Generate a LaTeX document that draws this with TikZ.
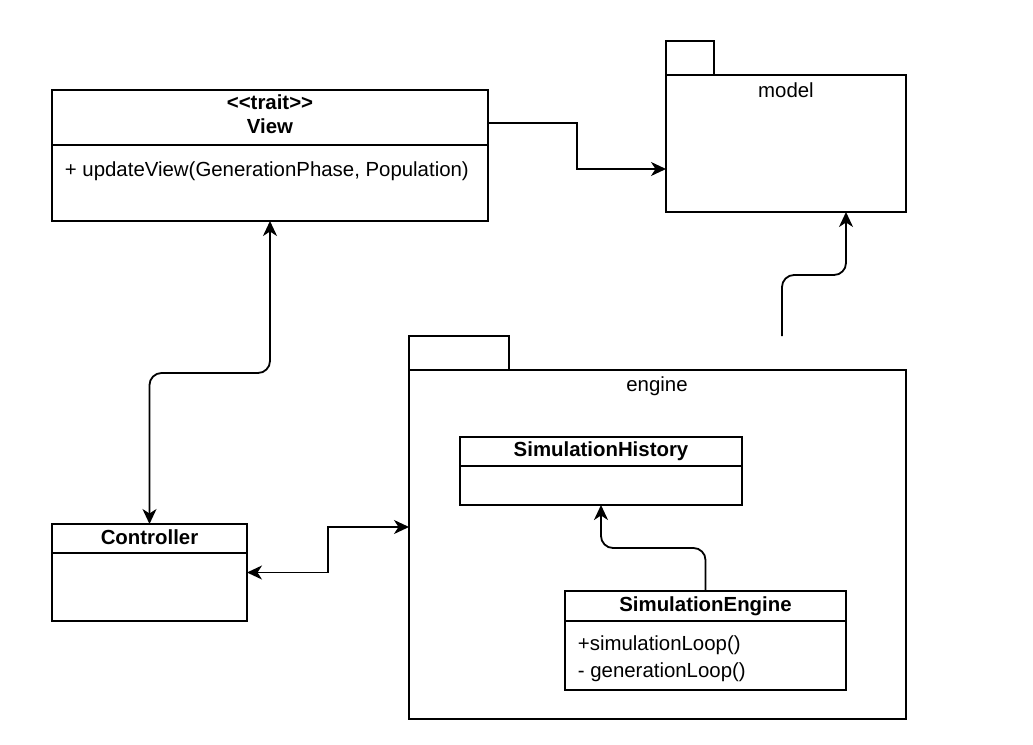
\documentclass[tikz,border=0pt]{standalone}
\usepackage{fontspec}
\setmainfont{Liberation Sans}[Ligatures=TeXOff]
\usetikzlibrary{arrows.meta}
\begin{document}
\begin{tikzpicture}[x=1pt,y=-1pt,line width=1.8pt,
  box/.style={draw,anchor=north west,inner sep=0pt,outer sep=0pt,line width=1.8pt},
  txt/.style={inner sep=0pt,anchor=base,font=\fontsize{20.4}{24}\selectfont},
  btxt/.style={inner sep=0pt,anchor=base,font=\fontsize{20.4}{24}\selectfont\bfseries},
  ltxt/.style={inner sep=0pt,anchor=base west,font=\fontsize{20.4}{24}\selectfont},
  tip/.tip={Stealth[length=15pt,width=14pt,inset=4.5pt]},
  conn/.style={line width=1.8pt,-tip},
  conn2/.style={line width=1.8pt,tip-tip}]
\useasboundingbox (0,0) rectangle (1033,744);
% View
\node[box,minimum width=436pt,minimum height=131pt] (view) at (52,90) {};
\draw (view.west |- 0,145) -- (view.east |- 0,145);
\node[btxt] (viewst) at (270,109) {<<trait>>};
\node[btxt] (viewname) at (270,133) {View};
\node[ltxt] (viewm) at (64,176.5) {+ updateView(GenerationPhase, Population)};
% model package
\node[box,minimum width=48pt,minimum height=34pt] (modeltab) at (666,41) {};
\node[box,minimum width=240pt,minimum height=137pt] (model) at (666,75) {};
\node[txt] (modellbl) at (786,97) {model};
% engine package
\node[box,minimum width=100pt,minimum height=34pt] (enginetab) at (409,336) {};
\node[box,minimum width=497pt,minimum height=349pt] (engine) at (409,370) {};
\node[txt] (enginelbl) at (657,391) {engine};
% SimulationHistory
\node[box,minimum width=282pt,minimum height=68pt] (hist) at (460,437) {};
\draw (hist.west |- 0,466) -- (hist.east |- 0,466);
\node[btxt] (histname) at (601,456) {SimulationHistory};
% SimulationEngine
\node[box,minimum width=281pt,minimum height=99pt] (eng) at (565,591) {};
\draw (eng.west |- 0,621) -- (eng.east |- 0,621);
\node[btxt] (engname) at (705.5,611) {SimulationEngine};
\node[ltxt] (engm1) at (577,650.5) {+simulationLoop()};
\node[ltxt] (engm2) at (577,677) {- generationLoop()};
% Controller
\node[box,minimum width=195pt,minimum height=97pt] (ctrl) at (52,524) {};
\draw (ctrl.west |- 0,553) -- (ctrl.east |- 0,553);
\node[btxt] (ctrlname) at (149.5,544) {Controller};
% connectors
\draw[conn] ([yshift=-33pt]view.north east) -- ++(89,0) |- ([yshift=-25.5pt]model.west);
\draw[conn,rounded corners=12pt] ([xshift=124.5pt,yshift=34pt]engine.north) -- ++(0,-61) -| ([xshift=60pt]model.south);
\draw[conn2,rounded corners=12pt] (view.south) -- ++(0,152) -| (ctrl.north);
\draw[conn2] (ctrl.east) -- ++(81,0) |- ([yshift=17.5pt]engine.west);
\draw[conn,rounded corners=12pt] (eng.north) -- ++(0,-43) -| (hist.south);
\end{tikzpicture}
\end{document}
